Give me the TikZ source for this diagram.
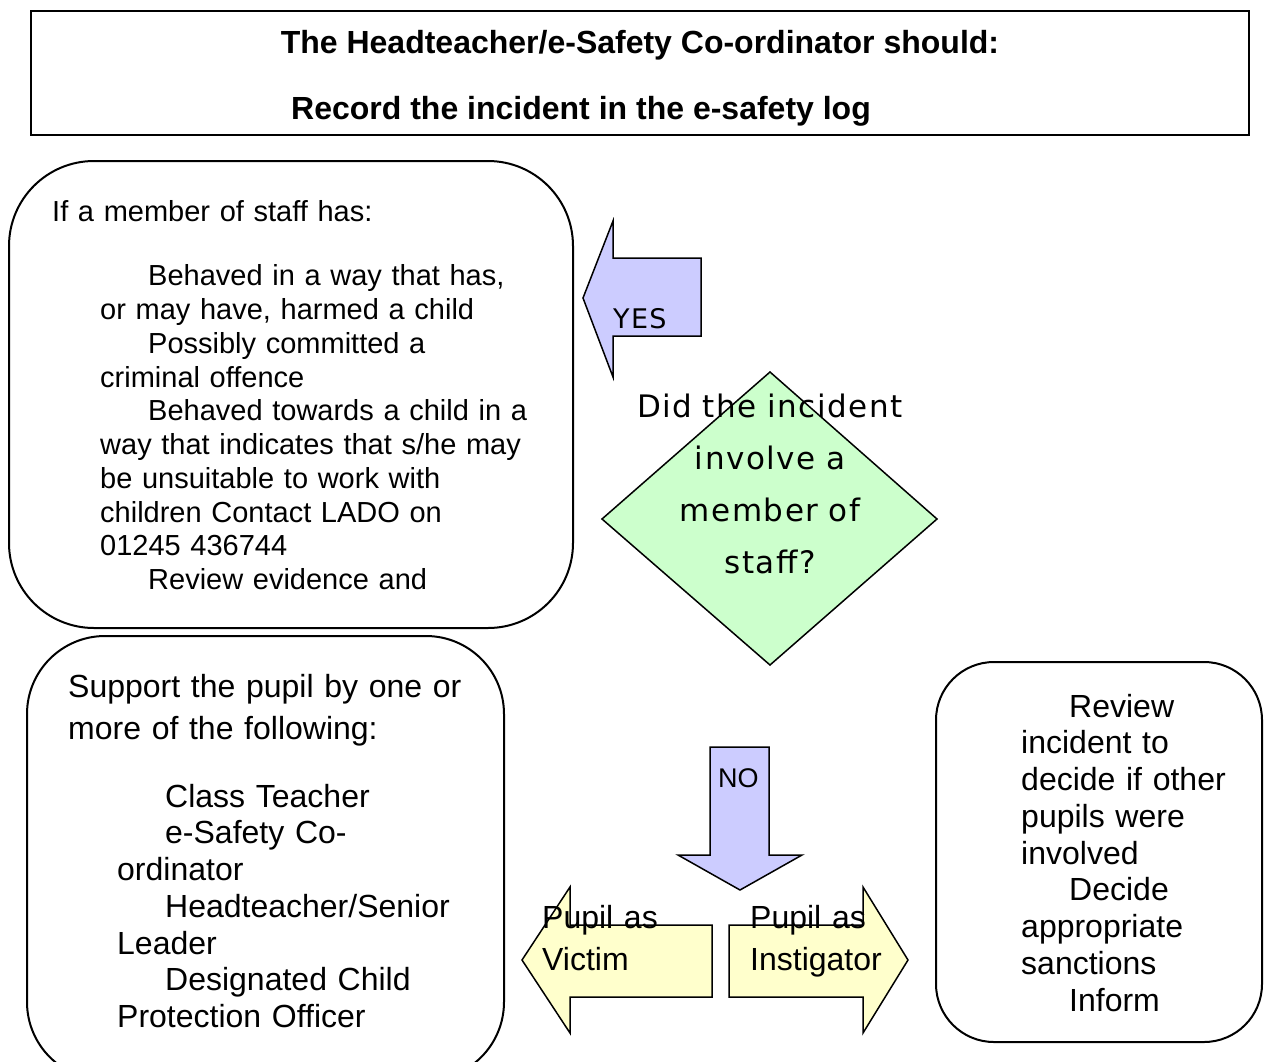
\documentclass[tikz,border=0pt]{standalone}
\usepackage{fontspec}
\setmainfont{Liberation Sans}
\newfontfamily\vfont[LetterSpace=5]{DejaVu Sans}
\definecolor{lav}{HTML}{CCCCFF}
\definecolor{pgreen}{HTML}{CCFFCC}
\definecolor{pyellow}{HTML}{FFFFCC}
\begin{document}
\begin{tikzpicture}[x=1pt,y=-1pt,
  roundbox/.style={draw=black,line width=2pt},
  blockarrow/.style={draw=black,line width=1.5pt,line join=miter},
  txt/.style={inner sep=0pt,anchor=base west,align=left},
  arial32/.style={font=\fontsize{32}{36.75}\selectfont}
]
\useasboundingbox (0,0) rectangle (1264,1061);
\clip (0,0) rectangle (1264,1061);

% top box
\draw[line width=2pt] (31,11) rectangle (1249,135);
\node[inner sep=0pt,anchor=base,font=\bfseries\fontsize{32}{38}\selectfont] (t1) at (640,53) {The Headteacher/e-Safety Co-ordinator should:};
\node[txt,font=\bfseries\fontsize{32}{38}\selectfont] (t2) at (291,119) {Record the incident in the e-safety log};

% staff box
\draw[roundbox,rounded corners=85pt] (9,161) rectangle (573,628);
\node[txt,text width=520pt,font=\fontsize{29}{33.75}\selectfont] (staff) at (52,221) {If a member of staff has:\\[31pt]
\hspace*{96pt}Behaved in a way that has,\\
\hspace*{48pt}or may have, harmed a child\\
\hspace*{96pt}Possibly committed a\\
\hspace*{48pt}criminal offence\\
\hspace*{96pt}Behaved towards a child in a\\
\hspace*{48pt}way that indicates that s/he may\\
\hspace*{48pt}be unsuitable to work with\\
\hspace*{48pt}children Contact LADO on\\
\hspace*{48pt}01245 436744\\
\hspace*{96pt}Review evidence and};

% YES arrow
\draw[blockarrow,fill=lav] (701,258) -- (613,258) -- (613,221) -- (583,298) -- (613,377) -- (613,336) -- (701,336) -- cycle;
\node[inner sep=0pt,anchor=base west,font=\vfont\fontsize{27}{30}\selectfont] (yes) at (613,328) {YES};

% diamond
\coordinate (dT) at (770,372);
\coordinate (dR) at (937,519);
\coordinate (dB) at (770,665);
\coordinate (dL) at (602,519);
\draw[draw=black,line width=1.5pt,fill=pgreen] (dT) -- (dR) -- (dB) -- (dL) -- cycle;
\node[inner sep=0pt,anchor=base,text width=340pt,align=center,font=\vfont\fontsize{31}{52}\selectfont] (q) at (770,417) {Did the incident\\involve a\\member of\\staff?};

% support box
\draw[roundbox,rounded corners=78pt] (27,636) rectangle (504,1080);
\node[txt,text width=440pt,font=\fontsize{32}{42}\selectfont] (sup1) at (68,697) {Support the pupil by one or\\more of the following:};
\node[txt,text width=380pt,arial32] (sup2) at (117,807) {\hspace*{48pt}Class Teacher\\
\hspace*{48pt}e-Safety Co-\\
ordinator\\
\hspace*{48pt}Headteacher/Senior\\
Leader\\
\hspace*{48pt}Designated Child\\
Protection Officer};

% NO arrow
\draw[blockarrow,fill=lav] (710,747) -- (769,747) -- (769,855) -- (802,855) -- (740,890) -- (678,855) -- (710,855) -- cycle;
\node[inner sep=0pt,anchor=base west,font=\fontsize{27}{30}\selectfont] (no) at (718,787) {NO};

% victim / instigator arrows
\draw[blockarrow,fill=pyellow] (712,925) -- (570,925) -- (570,887) -- (522,960) -- (570,1033) -- (570,997) -- (712,997) -- cycle;
\draw[blockarrow,fill=pyellow] (729,925) -- (863,925) -- (863,887) -- (908,960) -- (863,1033) -- (863,997) -- (729,997) -- cycle;
\node[txt,text width=160pt,font=\fontsize{32}{42}\selectfont] (victim) at (542,928) {Pupil as\\Victim};
\node[txt,text width=170pt,font=\fontsize{32}{42}\selectfont] (instig) at (750,928) {Pupil as\\Instigator};

% right box
\draw[roundbox,rounded corners=58pt] (936,662) rectangle (1262,1042);
\node[txt,text width=240pt,arial32] (rev) at (1021,717) {\hspace*{48pt}Review\\
incident to\\
decide if other\\
pupils were\\
involved\\
\hspace*{48pt}Decide\\
appropriate\\
sanctions\\
\hspace*{48pt}Inform};
\end{tikzpicture}
\end{document}
